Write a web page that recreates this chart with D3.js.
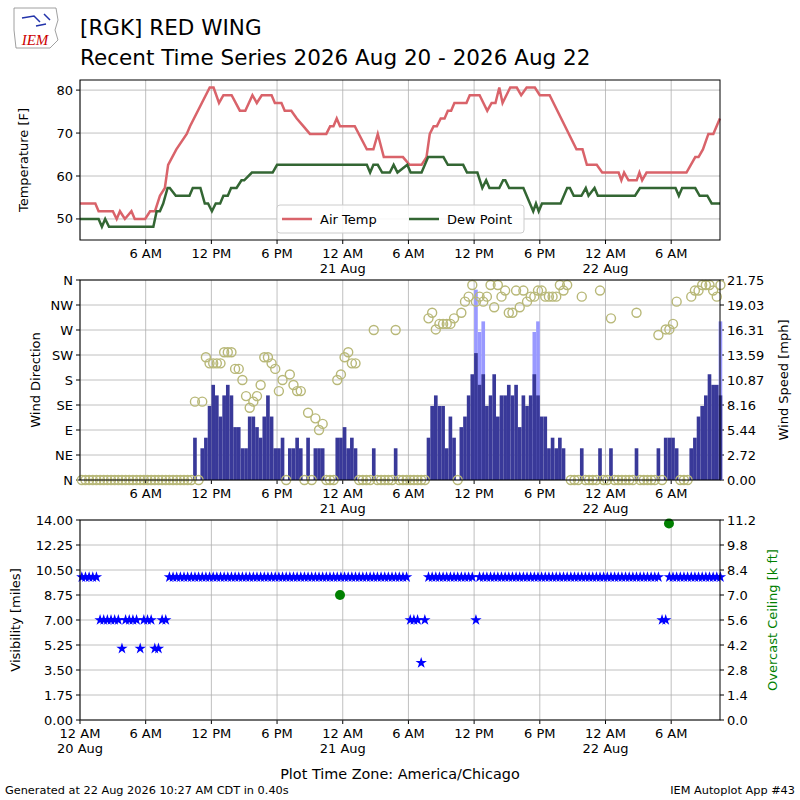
<!DOCTYPE html>
<html><head><meta charset="utf-8">
<script src="https://cdn.jsdelivr.net/npm/d3@7"></script>
<style>body{margin:0;background:#fff}svg{font-family:"DejaVu Sans",sans-serif}</style>
</head><body><svg id="c" width="800" height="800"></svg>
<script>
// hours since 20 Aug 00:00 CDT
const tempHours=[0,1.4,1.7,3.0,3.35,3.65,4.1,4.7,5.0,5.95,6.4,6.85,7.3,7.75,8.05,8.8,9.75,10.05,11.85,12.2,12.7,13.1,13.85,14.6,15.1,15.75,16.15,16.6,17.5,17.8,18.4,18.7,19.3,19.8,20.4,21,22.5,22.85,23.15,23.45,23.75,25.1,26.2,26.8,27.2,27.75,29.5,30.1,31.2,31.65,31.95,32.3,32.6,32.95,33.3,33.6,33.9,34.2,35.3,35.6,36.5,37.2,37.6,37.95,38.3,38.6,39.3,39.9,40.3,40.8,41.55,42.0,42.9,45.35,45.9,46.3,47.2,47.7,49.2,49.45,49.7,50.1,50.85,51.1,51.35,51.75,55.4,56.2,56.5,56.9,57.4,57.85,58.45];
const tempValues=[53.6,53.6,51.8,51.8,50,51.8,50,51.8,50,50,51.8,51.8,55.4,57.2,62.6,66.2,69.8,71.6,80.6,80.6,77,78.8,78.8,75.2,75.2,78.8,77,78.8,78.8,77,77,75.2,75.2,73.4,71.6,69.8,69.8,71.6,71.6,73.4,71.6,71.6,66.2,66.2,69.8,64.4,64.4,62.6,62.6,64.4,69.8,71.6,71.6,73.4,73.4,75.2,75.2,77,77,78.8,78.8,75.2,77,77,80.6,77,80.6,80.6,78.8,80.6,80.6,78.8,78.8,66.2,66.2,62.6,62.6,60.8,60.8,59,60.8,59,59,60.8,59,60.8,60.8,64.4,64.4,66.2,69.8,69.8,73.4];
const dewHours=[0,1.7,2.0,2.3,2.65,6.7,7.0,7.3,7.6,8.0,8.2,8.75,10,10.3,11,11.4,11.7,12.05,12.4,12.8,13.1,13.5,13.8,14.3,14.75,15.0,15.7,17.6,18.0,26.2,26.5,26.8,27.2,27.6,28.3,28.65,29.0,29.9,30.2,31.2,31.8,33.2,33.6,35.0,35.35,36.3,36.75,37.1,37.4,38.3,38.65,38.85,39.2,40.5,41.1,41.4,41.65,41.9,42.2,43.9,44.5,44.75,45.1,45.8,46.2,46.45,47.0,47.3,50.7,51.15,54.4,54.7,55.0,56.2,56.6,57.3,57.7,58.46];
const dewValues=[50,50,48.2,50,48.2,48.2,51.8,51.8,53.6,57.2,57.2,55.4,55.4,57.2,57.2,53.6,53.6,51.8,53.6,53.6,55.4,55.4,57.2,57.2,59,59,60.8,60.8,62.6,62.6,60.8,62.6,62.6,60.8,60.8,62.6,60.8,62.6,60.8,60.8,64.4,64.4,62.6,62.6,60.8,60.8,57.2,59,57.2,57.2,59,59,57.2,57.2,53.6,51.8,53.6,51.8,53.6,53.6,57.2,57.2,55.4,55.4,57.2,55.4,57.2,55.4,55.4,57.2,57.2,55.4,57.2,57.2,55.4,55.4,53.6,53.6];
// 20-minute observations
const z=n=>Array(n).fill(0);
const windSpeed=[].concat(z(31),[4.6,0,3.45,4.6,8.05,10.35,9.2,6.9,9.2,10.35,9.2,5.75,5.75,3.45,3.45,6.9,6.9,5.75,4.6,6.9,9.2,6.9,3.45,3.45,4.6,0,3.45,3.45,4.6,3.45,0,4.6,0,3.45,3.45,3.45,0,0,0,4.6,4.6,5.75,3.45,4.6,3.45,0,0,0,0,3.45,0,0,0,0,0,3.45],z(8),
[4.6,8.05,9.2,8.05,8.05,3.45,6.9,4.6,0,5.75,6.9,9.2,11.5,13.8,10.35,11.5,8.05,9.2,11.5,6.9,9.2,9.2,10.35,9.2,10.35,5.75,9.2,8.05,9.2,11.5,9.2,6.9,6.9,3.45,4.6,3.45,4.6,3.45,0,0,0,0,3.45,0,0,0,0,3.45,0,0,3.45,0,0,0,0,0,0,3.45,0,0,0,0,0,3.45,0,4.6,4.6,4.6,3.45,0,0,0,3.45,4.6,6.9,8.05,9.2,11.5,10.35,10.35,9.2]);
const windDir=[].concat(z(31),[141,0,141,221,210,210,210,210,230,230,230,200,200,180,151,130,141,151,171,221,221,210,200,160,180,0,190,171,160,160,0,121,0,111,90,101,0,0,0,180,190,221,230,210,210,0,0,0,0,270,0,0,0,0,0,270],z(8),
[291,301,271,281,281,281,281,291,0,301,321,330,351,321,330,321,330,351,311,351,330,341,301,301,341,311,341,321,330,330,341,341,330,330,330,330,351,341,351,0,0,0,330,0,0,0,0,341,0,0,291,0,0,0,0,0,0,301,0,0,0,0,0,261,0,271,271,281,321,0,0,0,330,341,341,351,351,351,341,330,351]);
const gustIndex=[108,109,110,124,125,175];
const gustValues=[20.7,16.1,17.25,16.1,17.25,17.25];
const visRuns=[[0,4,10],[5,10,7],[11,11,5],[12,15,7],[16,16,5],[17,19,7],[20,21,5],[22,23,7],[24,89,10],[90,92,7],[93,93,4],[94,94,7],[95,107,10],[108,108,7],[109,158,10],[159,160,7],[161,175,10]];
const ceilHours=[23.75,53.8];
const ceilValues=[7.0,11.0];
const tickHours=[0,6,12,18,24,30,36,42,48,54];
const tickLabels=["12 AM\n20 Aug","6 AM","12 PM","6 PM","12 AM\n21 Aug","6 AM","12 PM","6 PM","12 AM\n22 Aug","6 AM"];
const dirLabels=["N","NE","E","SE","S","SW","W","NW","N"];
const speedLabels=["0.00","2.72","5.44","8.16","10.87","13.59","16.31","19.03","21.75"];

const svg=d3.select("#c");
const L=80,R=720,FS=13;
const x=d3.scaleLinear().domain([0,58.46]).range([L,R]);
function xAxis(g,y0,y1,showFirst){
  tickHours.forEach((h,i)=>{
    g.append("line").attr("x1",x(h)).attr("x2",x(h)).attr("y1",y0).attr("y2",y1).attr("stroke","#b0b0b0").attr("stroke-width",0.8);
    if(i===0&&!showFirst)return;
    g.append("line").attr("x1",x(h)).attr("x2",x(h)).attr("y1",y1).attr("y2",y1+4).attr("stroke","#000");
    const t=g.append("text").attr("x",x(h)).attr("y",y1+18).attr("text-anchor","middle").attr("font-size",FS);
    tickLabels[i].split("\n").forEach((s,k)=>t.append("tspan").attr("x",x(h)).attr("dy",k?15:0).text(s));
  });
}
function yGrid(g,scale,ticks,fmt,side){
  ticks.forEach((v,i)=>{
    const yy=scale(v);
    if(side==="left"){
      g.append("line").attr("x1",L).attr("x2",R).attr("y1",yy).attr("y2",yy).attr("stroke","#b0b0b0").attr("stroke-width",0.8);
      g.append("line").attr("x1",L-4).attr("x2",L).attr("y1",yy).attr("y2",yy).attr("stroke","#000");
      g.append("text").attr("x",L-7).attr("y",yy+4.5).attr("text-anchor","end").attr("font-size",FS).text(fmt(v,i));
    }else{
      g.append("line").attr("x1",R).attr("x2",R+4).attr("y1",yy).attr("y2",yy).attr("stroke","#000");
      g.append("text").attr("x",R+7).attr("y",yy+4.5).attr("font-size",FS).text(fmt(v,i));
    }
  });
}
function frame(y0,y1){svg.append("rect").attr("x",L).attr("y",y0).attr("width",R-L).attr("height",y1-y0).attr("fill","none").attr("stroke","#000").attr("stroke-width",1);}
function ylabel(txt,xx,yc,color){svg.append("text").attr("transform",`translate(${xx},${yc}) rotate(-90)`).attr("text-anchor","middle").attr("font-size",FS).attr("fill",color||"#000").text(txt);}

// Header
svg.append("text").attr("x",80).attr("y",35).attr("font-size",21.5).text("[RGK] RED WING");
svg.append("text").attr("x",80).attr("y",65).attr("font-size",21.5).text("Recent Time Series 2026 Aug 20 - 2026 Aug 22");
const logo=svg.append("g");
logo.append("path").attr("d","M14,8 L56,8 L58,20 L55,30 L58,40 L50,48 L16,48 L14,30 Z").attr("fill","#fff").attr("stroke","#888").attr("stroke-width",0.8);
logo.append("path").attr("d","M22,18 L34,16 L40,22 M44,14 L50,20 M36,26 L46,24").attr("fill","none").attr("stroke","#2233aa").attr("stroke-width",1.5);
logo.append("text").attr("x",35).attr("y",45).attr("text-anchor","middle").attr("font-size",15).attr("font-style","italic").attr("font-family","Liberation Serif").attr("fill","#c00").text("IEM");
svg.append("text").attr("x",5).attr("y",794).attr("font-size",11.3).text("Generated at 22 Aug 2026 10:27 AM CDT in 0.40s");
svg.append("text").attr("x",795).attr("y",794).attr("text-anchor","end").attr("font-size",11.3).text("IEM Autoplot App #43");
svg.append("text").attr("x",400).attr("y",779).attr("text-anchor","middle").attr("font-size",14.4).text("Plot Time Zone: America/Chicago");

// Panel 1
const p1=svg.append("g");
const y1=d3.scaleLinear().domain([45.1,82.35]).range([240,80]);
xAxis(p1,80,240,false);
yGrid(p1,y1,[50,60,70,80],v=>v,"left");
const line=d3.line().x(d=>x(d[0])).y(d=>y1(d[1]));
p1.append("path").datum(tempHours.map((h,i)=>[h,tempValues[i]])).attr("d",line).attr("fill","none").attr("stroke","#d9636a").attr("stroke-width",2.5);
p1.append("path").datum(dewHours.map((h,i)=>[h,dewValues[i]])).attr("d",line).attr("fill","none").attr("stroke","#336633").attr("stroke-width",2.5);
frame(80,240);
ylabel("Temperature [F]",28,160);
const lg=svg.append("g");
lg.append("rect").attr("x",277).attr("y",205).attr("width",247).attr("height",28).attr("rx",3).attr("fill","#fff").attr("fill-opacity",0.85).attr("stroke","#ccc");
lg.append("line").attr("x1",282).attr("x2",312).attr("y1",219).attr("y2",219).attr("stroke","#d9636a").attr("stroke-width",2.5);
lg.append("text").attr("x",320).attr("y",224).attr("font-size",FS).text("Air Temp");
lg.append("line").attr("x1",409).attr("x2",439).attr("y1",219).attr("y2",219).attr("stroke","#336633").attr("stroke-width",2.5);
lg.append("text").attr("x",447).attr("y",224).attr("font-size",FS).text("Dew Point");

// Panel 2
const p2=svg.append("g");
const yd=d3.scaleLinear().domain([0,360]).range([480,280]);
const ys=d3.scaleLinear().domain([0,21.75]).range([480,280]);
xAxis(p2,280,480,false);
yGrid(p2,yd,d3.range(0,361,45),(v,i)=>dirLabels[i],"left");
yGrid(p2,ys,d3.range(9).map(i=>i*21.75/8),(v,i)=>speedLabels[i],"right");
const bw=x(1/3)-x(0);
p2.selectAll(".g").data(gustIndex).enter().append("rect").attr("x",i=>x(i/3)).attr("width",bw).attr("y",(i,k)=>ys(gustValues[k])).attr("height",(i,k)=>480-ys(gustValues[k])).attr("fill","#9999ff");
p2.selectAll(".b").data(windSpeed.map((v,i)=>[i,v]).filter(d=>d[1]>0)).enter().append("rect").attr("x",d=>x(d[0]/3)).attr("width",bw).attr("y",d=>ys(d[1])).attr("height",d=>480-ys(d[1])).attr("fill","#393999");
p2.selectAll(".c").data(windDir).enter().append("circle").attr("cx",(d,i)=>x(i/3+1/6)).attr("cy",d=>yd(d)).attr("r",4.5).attr("fill","none").attr("stroke","#b8b878").attr("stroke-width",1.4);
frame(280,480);
ylabel("Wind Direction",40,380);
svg.append("text").attr("transform","translate(788,380) rotate(-90)").attr("text-anchor","middle").attr("font-size",FS).text("Wind Speed [mph]");

// Panel 3
const p3=svg.append("g");
const yv=d3.scaleLinear().domain([0,14]).range([720,520]);
const yc=d3.scaleLinear().domain([0,11.2]).range([720,520]);
xAxis(p3,520,720,true);
yGrid(p3,yv,d3.range(9).map(i=>i*1.75),v=>v.toFixed(2),"left");
yGrid(p3,yc,d3.range(9).map(i=>i*1.4),v=>v.toFixed(1),"right");
const vis=[];visRuns.forEach(r=>{for(let i=r[0];i<=r[1];i++)vis.push([i,r[2]]);});
const star=d3.symbol().type(d3.symbolStar).size(40);
p3.selectAll(".s").data(vis).enter().append("path").attr("d",star).attr("transform",d=>`translate(${x(d[0]/3+1/6)},${yv(d[1])})`).attr("fill","#0000ff");
p3.selectAll(".k").data(ceilHours).enter().append("circle").attr("cx",h=>x(h)).attr("cy",(h,i)=>yc(ceilValues[i])).attr("r",5).attr("fill","#008000");
frame(520,720);
ylabel("Visibility [miles]",20,620);
svg.append("text").attr("transform","translate(777,620) rotate(-90)").attr("text-anchor","middle").attr("font-size",FS).attr("fill","#008000").text("Overcast Ceiling [k ft]");
</script></body></html>
